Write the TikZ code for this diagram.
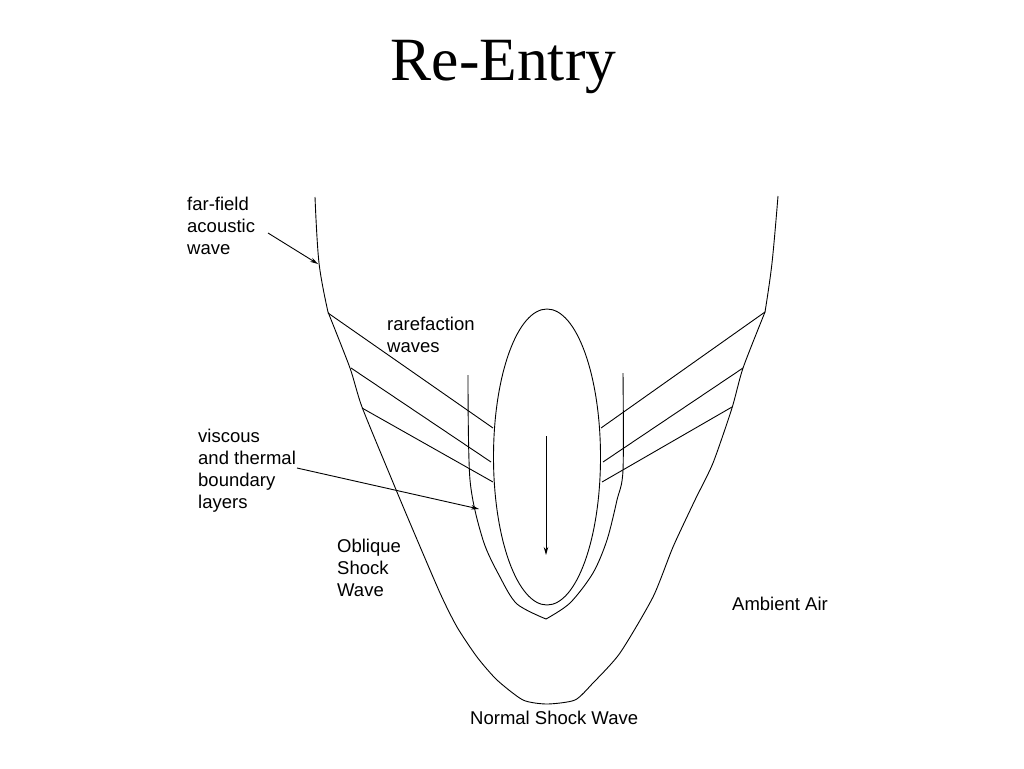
\documentclass[tikz,border=0pt]{standalone}
\usepackage{fontspec}
\setmainfont{Liberation Serif}
\newfontfamily\labfont{Liberation Sans}
\usetikzlibrary{arrows.meta,shapes.geometric}
\tikzset{
  curve/.style={line width=0.9pt, black},
  lab/.style={font=\labfont\fontsize{18.5}{22}\selectfont, inner sep=0pt, anchor=base west},
  pointer/.style={line width=0.9pt, -{Stealth[length=8pt,width=4.5pt]}},
}
\newcommand{\stack}[1]{\vtop{\baselineskip=22pt\lineskiplimit=-10pt #1}}
\begin{document}
\begin{tikzpicture}[x=1pt,y=-1pt]
\useasboundingbox (0,0) rectangle (1024,768);
% title
\node[font=\fontsize{61.5}{70}\selectfont, inner sep=0pt, anchor=base] (title) at (503.5,80) {Re-Entry};
% far-field acoustic waves
\draw[curve] plot[smooth, tension=0.6] coordinates {(315,197) (319,263) (328,312)};
\draw[curve] plot[smooth, tension=0.6] coordinates {(778,196) (772,263) (765,312)};
% shock wave
\draw[curve] plot[smooth, tension=0.4] coordinates {(328,312) (350,368) (362,407) (392,480) (410,523) (440,593) (457,627) (477,657) (497,680) (523,700) (547,704) (575,700) (593,683) (620,653) (653,597) (673,547) (695,500) (713,463) (732,408) (743,368) (765,312)};
% body
\node[draw, curve, ellipse, minimum width=107pt, minimum height=296pt, inner sep=0pt] (body) at (547,457) {};
% boundary layers
\draw[curve] plot[smooth, tension=0.5] coordinates {(468,375) (470,480) (483,540) (500,577) (517,604) (546,619)};
\draw[curve] plot[smooth, tension=0.5] coordinates {(546,619) (570,603) (593,573) (607,540) (617,500) (623,470) (623,373)};
% rarefaction waves
\draw[curve] (328,313) -- (493,428);
\draw[curve] (351,368) -- (491,462);
\draw[curve] (362,408) -- (493,482);
\draw[curve] (765,312) -- (601,428);
\draw[curve] (743,368) -- (603,462);
\draw[curve] (732,407) -- (602,482);
% direction of motion
\coordinate (mtop) at (546,436);
\coordinate (mbot) at (546,555);
\draw[pointer] (mtop) -- (mbot);
% labels
\node[lab] (ff) at (187,210) {\stack{\hbox{far-field}\hbox{acoustic}\hbox{wave}}};
\node[lab] (rw) at (387,330) {\stack{\hbox{rarefaction}\hbox{waves}}};
\node[lab] (vt) at (198,442) {\stack{\hbox{viscous}\hbox{and thermal}\hbox{boundary}\hbox{layers}}};
\node[lab] (ob) at (337,552) {\stack{\hbox{Oblique}\hbox{Shock}\hbox{Wave}}};
\node[lab] (amb) at (732,610) {Ambient Air};
\node[lab] (nsw) at (470,724) {Normal Shock Wave};
% pointers
\coordinate (ffs) at (268,233);
\coordinate (ffe) at (318,264);
\draw[pointer] (ffs) -- (ffe);
\coordinate (vts) at (297,468);
\coordinate (vte) at (479,509);
\draw[pointer] (vts) -- (vte);
\end{tikzpicture}
\end{document}
